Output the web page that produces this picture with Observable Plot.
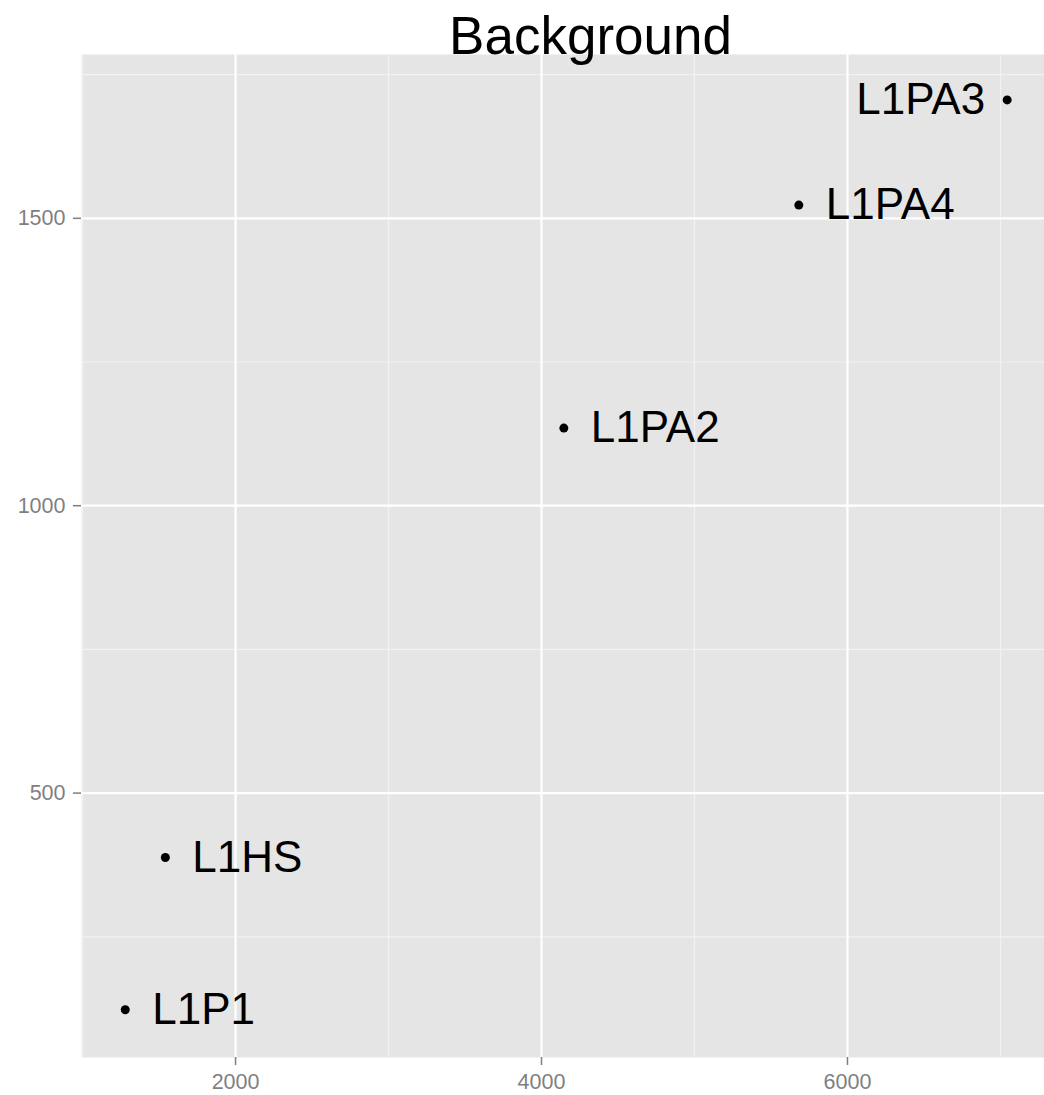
<!DOCTYPE html>
<html>
<head>
<meta charset="utf-8">
<script src="https://cdn.jsdelivr.net/npm/d3@7"></script>
<script src="https://cdn.jsdelivr.net/npm/@observablehq/plot@0.6"></script>
<style>
  html, body { margin: 0; padding: 0; background: #fff; overflow: hidden; }
  #chart svg { display: block; font-family: "Liberation Sans", Arial, sans-serif; }
</style>
</head>
<body>
<div id="chart"></div>
<script>
const title = "Background";
const names = ["L1P1", "L1HS", "L1PA2", "L1PA4", "L1PA3"];
const xValues = [1279, 1541, 4146, 5682, 7044];
const yValues = [123, 388, 1135, 1523, 1706];
const xTicks = [2000, 4000, 6000];
const yTicks = [500, 1000, 1500];
const xMinor = [1000, 3000, 5000, 7000];
const yMinor = [250, 750, 1250, 1750];
const leftLabeled = ["L1PA3"];

const data = names.map((n, i) => ({ name: n, x: xValues[i], y: yValues[i] }));

const chart = Plot.plot({
  width: 1044,
  height: 1095,
  marginLeft: 81,
  marginRight: 0,
  marginTop: 54,
  marginBottom: 38,
  style: { fontFamily: "'Liberation Sans', Arial, sans-serif", background: "#fff" },
  x: { domain: [993, 7288] },
  y: { domain: [40, 1785] },
  marks: [
    Plot.frame({ fill: "#E5E5E5", stroke: null }),
    Plot.ruleX(xMinor, { stroke: "#F2F2F2", strokeWidth: 1.2 }),
    Plot.ruleY(yMinor, { stroke: "#F2F2F2", strokeWidth: 1.2 }),
    Plot.ruleX(xTicks, { stroke: "#FFFFFF", strokeWidth: 2.2 }),
    Plot.ruleY(yTicks, { stroke: "#FFFFFF", strokeWidth: 2.2 }),
    Plot.axisX({ ticks: xTicks, tickFormat: d => String(d), tickSize: 8, tickPadding: 8, fontSize: 21.5, color: "#7F7F7F", stroke: "#7F7F7F", strokeWidth: 1.5, label: null }),
    Plot.axisY({ ticks: yTicks, tickFormat: d => String(d), tickSize: 8, tickPadding: 8, fontSize: 21.5, color: "#7F7F7F", stroke: "#7F7F7F", strokeWidth: 1.5, label: null }),
    Plot.dot(data, { x: "x", y: "y", r: 4.5, fill: "#000", stroke: null }),
    Plot.text(data.filter(d => !leftLabeled.includes(d.name)), { x: "x", y: "y", text: "name", textAnchor: "start", dx: 27, fontSize: 44, fill: "#000", lineAnchor: "middle" }),
    Plot.text(data.filter(d => leftLabeled.includes(d.name)), { x: "x", y: "y", text: "name", textAnchor: "end", dx: -22, fontSize: 44, fill: "#000", lineAnchor: "middle" }),
    Plot.text([title], { frameAnchor: "top", text: d => d, dx: 27.5, dy: -1, lineAnchor: "bottom", fontSize: 53, fill: "#000" })
  ]
});
document.getElementById("chart").appendChild(chart);
</script>
</body>
</html>
